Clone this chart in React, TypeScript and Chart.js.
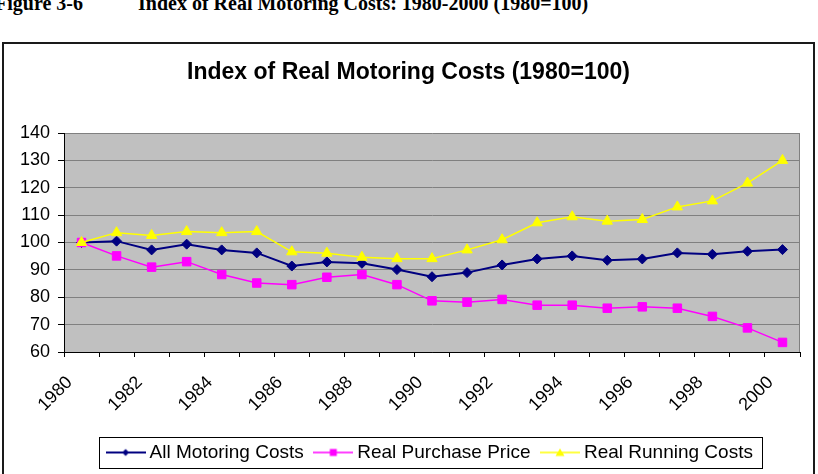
import { useEffect, useRef } from 'react';
import { Chart, registerables } from 'chart.js';

Chart.register(...registerables);

// Index values, 1980 = 100
const years = [
  '1980', '1981', '1982', '1983', '1984', '1985', '1986', '1987', '1988', '1989', '1990',
  '1991', '1992', '1993', '1994', '1995', '1996', '1997', '1998', '1999', '2000',
];
const allMotoringCosts = [
  100, 100.5, 97.3, 99.4, 97.3, 96.2, 91.4, 92.9, 92.4, 90.1, 87.5,
  89.0, 91.8, 94.0, 95.1, 93.5, 94.0, 96.2, 95.7, 96.8, 97.4,
];
const realPurchasePrice = [
  100, 95.1, 91.0, 93.0, 88.3, 85.2, 84.6, 87.3, 88.3, 84.6, 78.7,
  78.2, 79.2, 77.1, 77.1, 76.0, 76.5, 76.0, 73.0, 68.8, 63.5,
];
const realRunningCosts = [
  100, 103.6, 102.6, 104.0, 103.6, 104.0, 96.6, 96.1, 94.6, 94.1, 94.1,
  97.3, 101.0, 107.2, 109.4, 107.8, 108.4, 113.0, 115.2, 121.7, 130.0,
];
const yMin = 60;
const yMax = 140;
const yStep = 10;

const seriesNames = ['All Motoring Costs', 'Real Purchase Price', 'Real Running Costs'];
const chartTitle = 'Index of Real Motoring Costs (1980=100)';
const figureNumber = 'Figure 3-6';
const figureCaption = 'Index of Real Motoring Costs: 1980-2000 (1980=100)';

const NAVY = '#000080';
const MAGENTA = '#FF00FF';
const YELLOW = '#FFFF00';
const SANS = '"Liberation Sans", Arial, sans-serif';

type Marker = 'diamond' | 'square' | 'triangle';

// Legend swatch: a short line with the series marker in its middle
function makeSwatch(color: string, marker: Marker, lineWidth: number): HTMLCanvasElement {
  const c = document.createElement('canvas');
  c.width = 40;
  c.height = 14;
  const g = c.getContext('2d')!;
  const cx = 20;
  const cy = 7;
  g.strokeStyle = color;
  g.fillStyle = color;
  g.lineWidth = lineWidth;
  g.beginPath();
  g.moveTo(0, cy);
  g.lineTo(40, cy);
  g.stroke();
  g.beginPath();
  if (marker === 'diamond') {
    g.moveTo(cx - 3.5, cy);
    g.lineTo(cx, cy - 3.5);
    g.lineTo(cx + 3.5, cy);
    g.lineTo(cx, cy + 3.5);
  } else if (marker === 'square') {
    g.rect(cx - 3.5, cy - 3.5, 7, 7);
  } else {
    g.moveTo(cx, cy - 4);
    g.lineTo(cx + 4.5, cy + 3.5);
    g.lineTo(cx - 4.5, cy + 3.5);
  }
  g.closePath();
  g.fill();
  return c;
}

// Plot background, right plot edge and the framed legend
const chartDecor = {
  id: 'chartDecor',
  beforeDraw(chart: any) {
    const { ctx, chartArea: a } = chart;
    ctx.save();
    ctx.fillStyle = '#C0C0C0';
    ctx.fillRect(a.left, a.top, a.right - a.left, a.bottom - a.top);
    ctx.restore();
  },
  afterDraw(chart: any) {
    const { ctx, chartArea: a } = chart;
    ctx.save();
    ctx.strokeStyle = '#808080';
    ctx.lineWidth = 1;
    ctx.beginPath();
    ctx.moveTo(a.right - 0.5, a.top);
    ctx.lineTo(a.right - 0.5, a.bottom);
    ctx.stroke();

    const boxes = chart.legend?.legendHitBoxes || [];
    if (boxes.length) {
      let left = Infinity;
      let right = -Infinity;
      let top = Infinity;
      let bottom = -Infinity;
      for (const b of boxes) {
        left = Math.min(left, b.left);
        right = Math.max(right, b.left + b.width);
        top = Math.min(top, b.top);
        bottom = Math.max(bottom, b.top + b.height);
      }
      const x0 = Math.round(left - 12.5);
      const x1 = Math.round(right + 9);
      const y0 = Math.round(top - 6);
      const y1 = Math.round(bottom + 6);
      ctx.strokeStyle = '#000';
      ctx.lineWidth = 1;
      ctx.strokeRect(x0 + 0.5, y0 + 0.5, x1 - x0, y1 - y0);
    }
    ctx.restore();
  },
};

export default function App() {
  const canvasRef = useRef<HTMLCanvasElement>(null);

  useEffect(() => {
    const canvas = canvasRef.current;
    if (!canvas) return;
    const swatches = [
      makeSwatch(NAVY, 'diamond', 2),
      makeSwatch(MAGENTA, 'square', 1.5),
      makeSwatch(YELLOW, 'triangle', 1.5),
    ];

    const chart = new Chart(canvas, {
      type: 'line',
      data: {
        labels: years,
        datasets: [
          {
            label: seriesNames[0],
            data: allMotoringCosts,
            borderColor: NAVY,
            backgroundColor: NAVY,
            borderWidth: 2,
            pointStyle: 'rectRot',
            pointRadius: 5,
            pointBorderWidth: 1,
            order: 3,
          },
          {
            label: seriesNames[1],
            data: realPurchasePrice,
            borderColor: MAGENTA,
            backgroundColor: MAGENTA,
            borderWidth: 1.5,
            pointStyle: 'rect',
            pointRadius: 6,
            pointBorderWidth: 1,
            order: 2,
          },
          {
            label: seriesNames[2],
            data: realRunningCosts,
            borderColor: YELLOW,
            backgroundColor: YELLOW,
            borderWidth: 1.5,
            pointStyle: 'triangle',
            pointRadius: 6,
            pointBorderWidth: 1,
            order: 1,
          },
        ],
      },
      options: {
        responsive: false,
        maintainAspectRatio: false,
        animation: false,
        devicePixelRatio: 1,
        layout: { padding: { left: 0, right: 0, top: 0, bottom: 2 } },
        elements: { line: { tension: 0 } },
        scales: {
          x: {
            type: 'category',
            offset: true,
            grid: {
              offset: true,
              drawOnChartArea: false,
              color: '#000',
              tickLength: 5,
            },
            border: { display: true, color: '#000', width: 1 },
            ticks: {
              autoSkip: false,
              maxRotation: 45,
              minRotation: 45,
              padding: 15,
              labelOffset: -12,
              color: '#000',
              font: { family: SANS, size: 18 },
              callback: function (this: any, value: any, index: number) {
                return index % 2 === 0 ? this.getLabelForValue(value) : '';
              },
            },
            afterFit: (s: any) => {
              s.height = 76;
            },
          },
          y: {
            min: yMin,
            max: yMax,
            grid: {
              color: (c: any) => (c.tick && c.tick.value === yMin ? '#000' : '#808080'),
              tickColor: '#000',
              tickLength: 6,
            },
            border: { display: true, color: '#000', width: 1 },
            ticks: {
              stepSize: yStep,
              padding: 8,
              color: '#000',
              font: { family: SANS, size: 18 },
            },
            afterFit: (s: any) => {
              s.width = 60;
            },
          },
          y2: {
            position: 'right',
            display: true,
            min: yMin,
            max: yMax,
            grid: { display: false, drawTicks: false },
            border: { display: false },
            ticks: { display: false },
            afterFit: (s: any) => {
              s.width = 10;
            },
          },
        },
        plugins: {
          title: {
            display: true,
            text: chartTitle,
            color: '#000',
            font: { family: SANS, size: 23, weight: 'bold', lineHeight: 1 },
            padding: { top: 17, bottom: 49 },
          },
          legend: {
            display: true,
            position: 'bottom',
            fullSize: false,
            labels: {
              usePointStyle: true,
              pointStyleWidth: 29,
              padding: 15,
              color: '#000',
              font: { family: SANS, size: 19 },
              generateLabels: (c: any) => {
                const items = Chart.defaults.plugins.legend.labels.generateLabels(c);
                items.sort((p: any, q: any) => p.datasetIndex - q.datasetIndex);
                return items.map((it: any) => ({
                  ...it,
                  pointStyle: swatches[it.datasetIndex],
                  lineWidth: 0,
                }));
              },
            },
          },
          tooltip: { enabled: false },
        },
      },
      plugins: [chartDecor],
    });

    return () => chart.destroy();
  }, []);

  const captionStyle: any = {
    position: 'absolute',
    top: -7,
    font: 'bold 20px "Liberation Serif", "Times New Roman", serif',
    lineHeight: '20px',
    whiteSpace: 'pre',
    color: '#000',
  };

  return (
    <div
      style={{
        position: 'absolute',
        left: 0,
        top: 0,
        width: 818,
        height: 474,
        overflow: 'hidden',
        background: '#fff',
      }}
    >
      <div style={{ ...captionStyle, left: -5 }}>{figureNumber}</div>
      <div style={{ ...captionStyle, left: 138 }}>{figureCaption}</div>
      <div
        style={{
          position: 'absolute',
          left: 2,
          top: 42,
          width: 809,
          height: 440,
          border: '2px solid #1a1a1a',
        }}
      >
        <canvas ref={canvasRef} width={809} height={430} style={{ display: 'block' }} />
      </div>
    </div>
  );
}
